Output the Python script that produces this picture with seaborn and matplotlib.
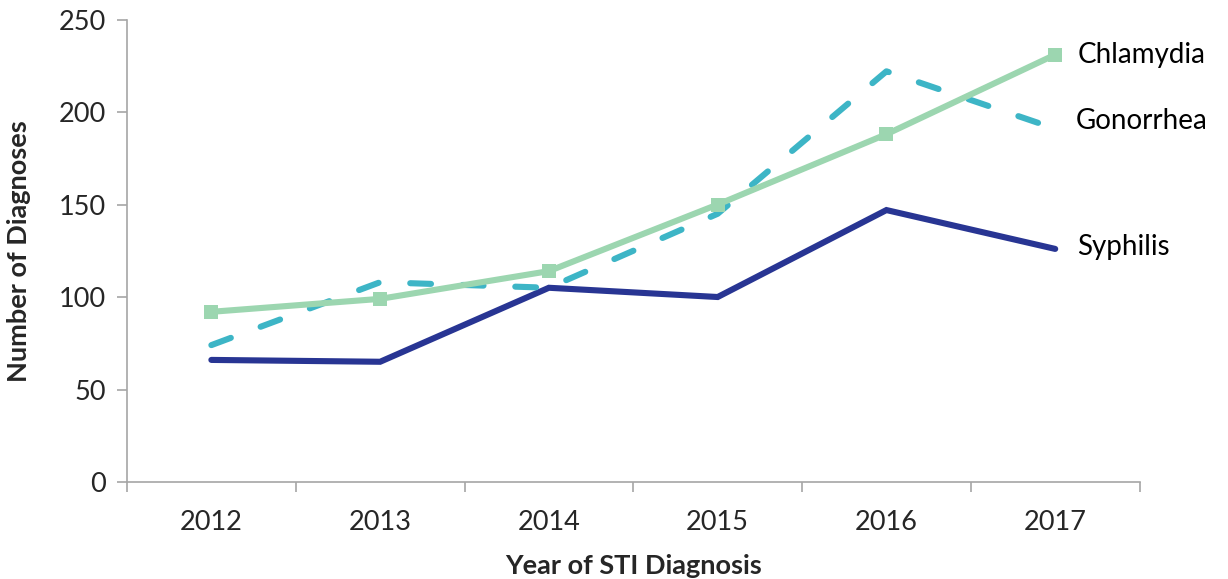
import matplotlib
matplotlib.use("Agg")
import matplotlib.pyplot as plt
import seaborn as sns
import pandas as pd

years = ["2012", "2013", "2014", "2015", "2016", "2017"]
syphilis = [66, 65, 105, 100, 147, 126]
gonorrhea = [74, 108, 105, 145, 222, 191]
chlamydia = [92, 99, 114, 150, 188, 231]

sns.set_theme(style="white")
plt.rcParams["font.family"] = ["Lato", "DejaVu Sans"]

fig = plt.figure(figsize=(12.28, 5.79), dpi=100)
ax = fig.add_axes([0.1034, 0.1675, 0.8246, 0.7988])

pos = list(range(len(years)))
df = pd.DataFrame({"pos": pos, "Syphilis": syphilis,
                   "Gonorrhea": gonorrhea, "Chlamydia": chlamydia})

sns.lineplot(data=df, x="pos", y="Syphilis", ax=ax, color="#283593",
             linewidth=4.4, solid_capstyle="round", solid_joinstyle="miter")
sns.lineplot(data=df, x="pos", y="Gonorrhea", ax=ax, color="#3DB5C6",
             linewidth=4.4, dashes=False)
ax.lines[-1].set_dashes((3.4, 5.2))
ax.lines[-1].set_dash_capstyle("round")
sns.lineplot(data=df, x="pos", y="Chlamydia", ax=ax, color="#9CD6B0",
             linewidth=4.4, marker="s", markersize=10, markeredgewidth=0,
             markerfacecolor="#9CD6B0")

# series labels at the right end of each line
label_kw = dict(fontsize=20, color="black", va="center", ha="left")
ax.text(pos[-1] + 0.13, chlamydia[-1], "Chlamydia", **label_kw)
ax.text(pos[-1] + 0.12, gonorrhea[-1] + 4, "Gonorrhea", **label_kw)
ax.text(pos[-1] + 0.13, syphilis[-1] + 1, "Syphilis", **label_kw)

ax.set_xlim(-0.5, len(years) - 0.5)
ax.set_ylim(0, 250)
ax.set_yticks([0, 50, 100, 150, 200, 250])
ax.set_xticks(pos)
ax.set_xticklabels(years)
ax.set_xticks([p - 0.5 for p in pos] + [pos[-1] + 0.5], minor=True)

for side in ["top", "right"]:
    ax.spines[side].set_visible(False)
for side in ["left", "bottom"]:
    ax.spines[side].set_color("#A6A6A6")
    ax.spines[side].set_linewidth(1.2)

ax.tick_params(axis="y", which="major", direction="out", length=7,
               width=1.2, color="#A6A6A6", labelsize=19.5, pad=8, left=True)
ax.tick_params(axis="x", which="major", length=0, labelsize=19.5, pad=20)
ax.tick_params(axis="x", which="minor", direction="out", length=7,
               width=1.2, color="#A6A6A6", bottom=True)

ax.set_xlabel("Year of STI Diagnosis", fontsize=19.5, fontweight="bold",
              labelpad=14)
ax.set_ylabel("Number of Diagnoses", fontsize=19.5, fontweight="bold",
              labelpad=20)
ax.grid(False)

fig.savefig("out.png", dpi=100)
